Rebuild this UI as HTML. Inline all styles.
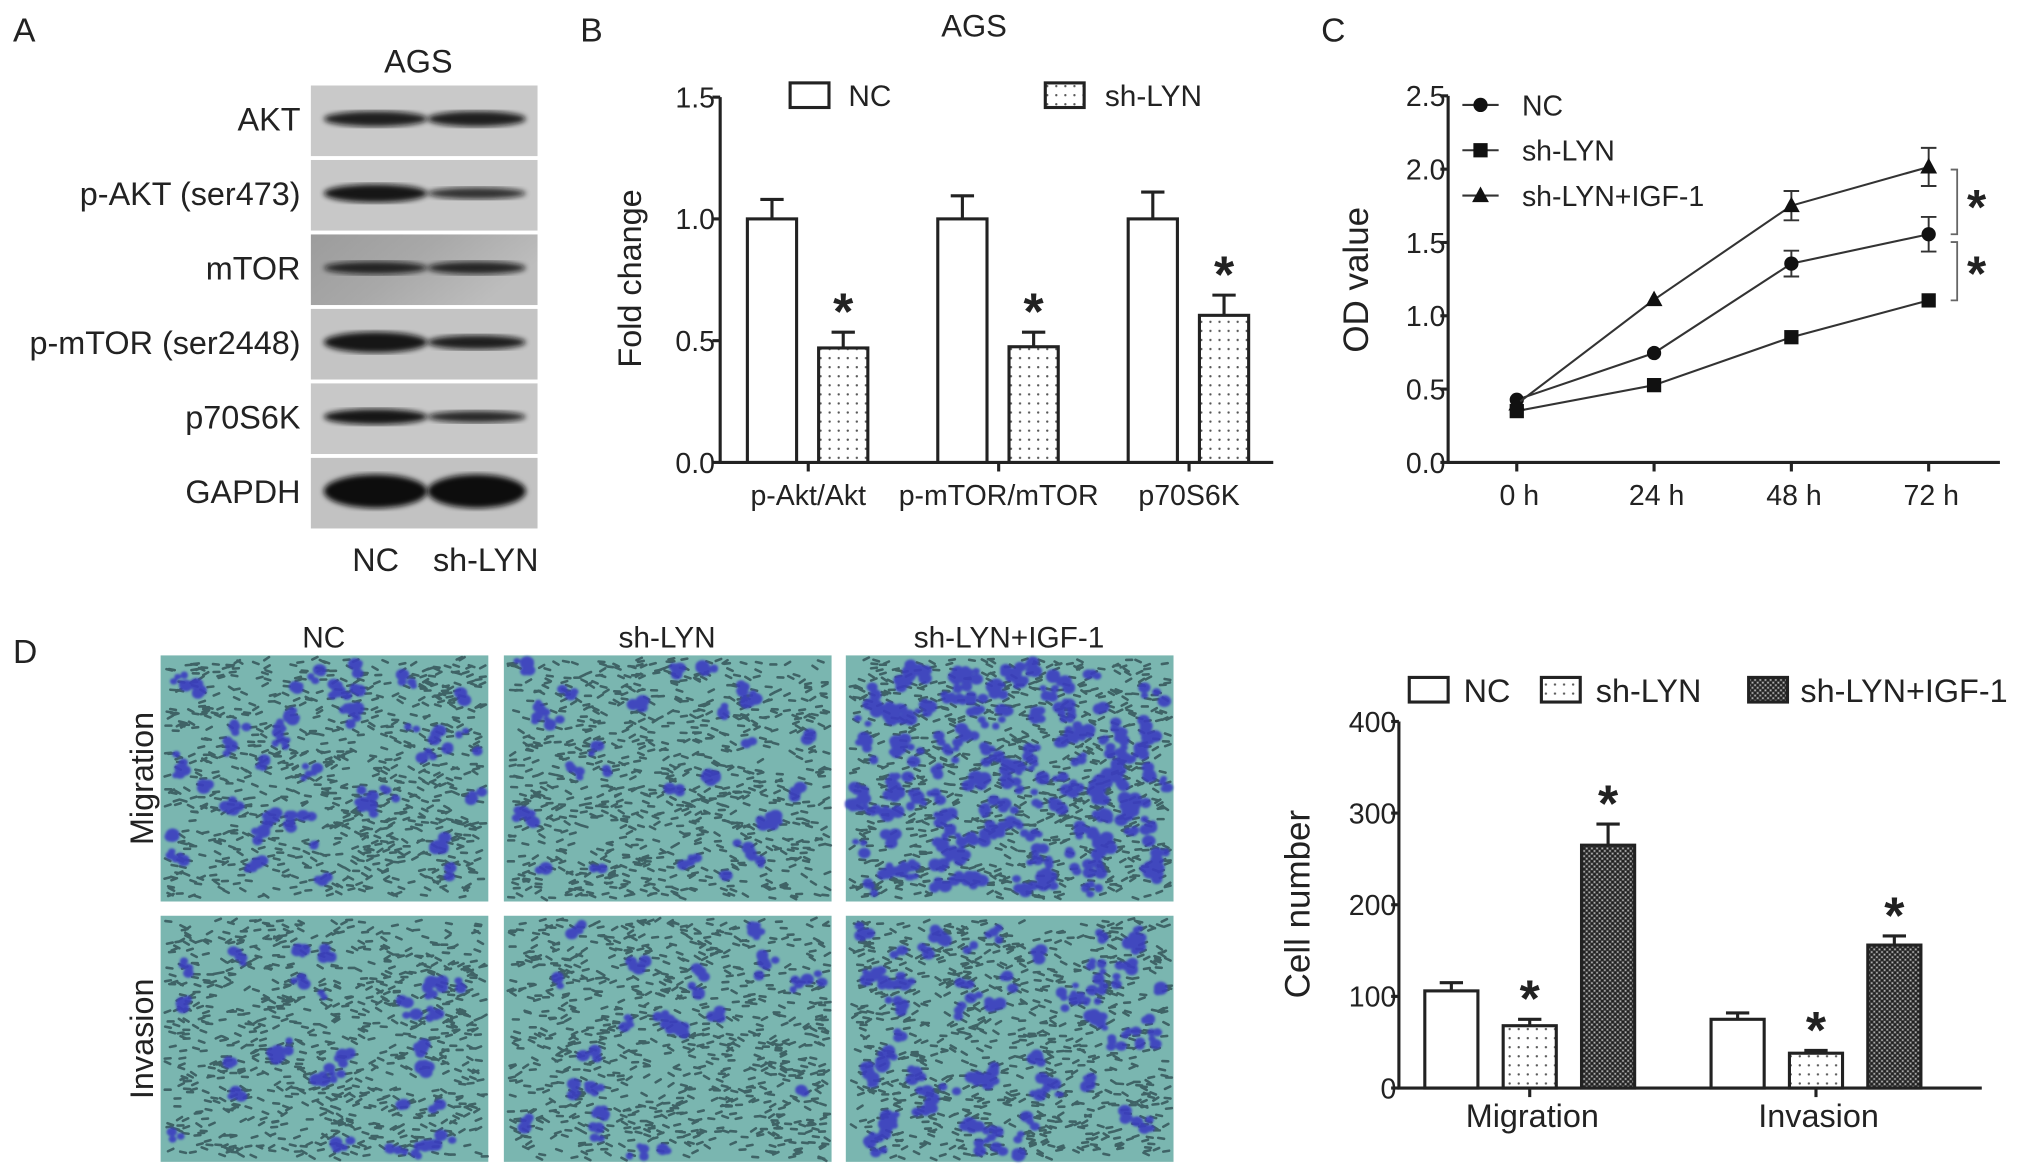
<!DOCTYPE html>
<html><head><meta charset="utf-8"><style>
html,body{margin:0;padding:0;background:#fff;}
svg{display:block;font-family:"Liberation Sans",Arial,sans-serif;}
</style></head><body>
<svg id="fig" width="2031" height="1173" viewBox="0 0 1568 905.6" preserveAspectRatio="none" xmlns="http://www.w3.org/2000/svg">
<defs>
<pattern id="dots" width="7" height="7" patternUnits="userSpaceOnUse"><rect width="7" height="7" fill="#fff"/><circle cx="3.5" cy="3.5" r="0.9" fill="#555"/></pattern>
<pattern id="check" width="4" height="4" patternUnits="userSpaceOnUse"><rect width="4" height="4" fill="#555"/><rect width="2" height="2" fill="#222"/><rect x="2" y="2" width="2" height="2" fill="#222"/><circle cx="1" cy="3" r="0.6" fill="#bbb"/><circle cx="3" cy="1" r="0.6" fill="#bbb"/></pattern>
<linearGradient id="mtorbg" x1="0" y1="0" x2="1" y2="0.4"><stop offset="0" stop-color="#9c9c9c"/><stop offset="0.5" stop-color="#a8a8a8"/><stop offset="1" stop-color="#bdbdbd"/></linearGradient>
<filter id="blur"><feGaussianBlur stdDeviation="2"/></filter>
<filter id="blur1"><feGaussianBlur stdDeviation="0.9"/></filter>
</defs>
<g id="panelA"></g>
<g id="panelB"></g>
<g id="panelC"></g>
<g id="panelD"></g>
<g id="panelE"></g>
</svg>
<script>
// ---- Panel B data ----
const bCategories = ["p-Akt/Akt", "p-mTOR/mTOR", "p70S6K"];
const bNC = [1.0, 1.0, 1.0];
const bNCErr = [0.08, 0.095, 0.11];
const bSh = [0.47, 0.475, 0.604];
const bShErr = [0.065, 0.06, 0.083];
const bTicks = ["0.0", "0.5", "1.0", "1.5"];
// ---- Panel C data ----
const cTimes = ["0 h", "24 h", "48 h", "72 h"];
const cNC = [0.427, 0.746, 1.356, 1.556];
const cNCErr = [0.02, 0.02, 0.088, 0.118];
const cSh = [0.35, 0.527, 0.854, 1.105];
const cShErr = [0.02, 0.02, 0.02, 0.03];
const cIGF = [0.398, 1.11, 1.751, 2.015];
const cIGFErr = [0.02, 0.02, 0.1, 0.13];
const cTicks = ["0.0", "0.5", "1.0", "1.5", "2.0", "2.5"];
// ---- Panel D chart data ----
const eCategories = ["Migration", "Invasion"];
const eNC = [106, 75];
const eNCErr = [9, 7];
const eSh = [68, 38];
const eShErr = [7, 3];
const eIGF = [265, 156];
const eIGFErr = [23, 10];
const eTicks = ["0", "100", "200", "300", "400"];

const NS = "http://www.w3.org/2000/svg";
function mk(parent, tag, attrs, text) {
  const e = document.createElementNS(NS, tag);
  for (const k in attrs) e.setAttribute(k, attrs[k]);
  if (text !== undefined) e.textContent = text;
  parent.appendChild(e);
  return e;
}
function txt(parent, x, y, s, size, anchor, name, extra) {
  const t = mk(parent, "text", Object.assign({x: x, y: y, "font-size": size, "text-anchor": anchor || "start", fill: "#222"}, extra || {}), s);
  
  
  return t;
}
const L = {stroke: "#222", "stroke-width": 2.4, fill: "none"};

// ================= Panel A =================
(function () {
  const g = document.getElementById("panelA");
  txt(g, 10, 32, "A", 26, "start", "panel-a-label");
  txt(g, 323, 56, "AGS", 25, "middle", "blot-cell-line-title");
  const rows = ["AKT", "p-AKT (ser473)", "mTOR", "p-mTOR (ser2448)", "p70S6K", "GAPDH"];
  const bg = ["#c9c9c9", "#c8c8c8", "url(#mtorbg)", "#c4c4c4", "#c8c8c8", "#c2c2c2"];
  const bandNC = [[6, 0.9], [7, 0.95], [5, 0.85], [8, 0.95], [6, 0.95], [13, 1]];
  const bandSh = [[6, 0.9], [4.5, 0.8], [5, 0.85], [5.5, 0.9], [4.5, 0.85], [13, 1]];
  const top = 65, h = 57.5;
  rows.forEach((r, i) => {
    const y = top + i * h;
    const strip = mk(g, "g", {});
    
    
    mk(strip, "rect", {x: 240, y: y + 1, width: 175, height: h - 3, fill: bg[i]});
    const cy = y + h / 2 - 2;
    mk(strip, "ellipse", {cx: 290, cy: cy, rx: 40, ry: bandNC[i][0], fill: "#111", opacity: bandNC[i][1], filter: "url(#blur)"});
    mk(strip, "ellipse", {cx: 368, cy: cy, rx: 38, ry: bandSh[i][0], fill: "#111", opacity: bandSh[i][1], filter: "url(#blur)"});
    txt(g, 232, cy + 9, r, 25, "end", "blot-label-" + r.toLowerCase().replace(/[^a-z0-9]+/g, '-'));
  });
  txt(g, 290, 441, "NC", 25, "middle", "blot-lane-nc");
  txt(g, 375, 441, "sh-LYN", 25, "middle", "blot-lane-sh-lyn");
})();

// ================= Panel B =================
(function () {
  const g = document.getElementById("panelB");
  txt(g, 448, 32, "B", 26, "start", "panel-b-label");
  txt(g, 752, 28, "AGS", 24, "middle", "chart-title-ags");
  const x0 = 556, x1 = 983, y0 = 357, yTop = 75, vmax = 1.5;
  const Y = v => y0 - (v / vmax) * (y0 - yTop);
  const groupX = i => 577 + i * 147;
  const bw = 38, off = 55;
  const ax = mk(g, "path", Object.assign({d: `M${x0},${yTop} L${x0},${y0} L${x1},${y0}`}, L));
  
  
  bTicks.forEach((t, i) => {
    const v = parseFloat(t);
    mk(g, "line", Object.assign({x1: x0 - 6, x2: x0, y1: Y(v), y2: Y(v)}, L));
    txt(g, x0 - 4, Y(v) + 8, t, 22, "end", "y-tick-label");
  });
  txt(g, 0, 0, "Fold change", 25, "middle", "y-axis-title", {transform: "translate(495,215) rotate(-90)"});
  bCategories.forEach((c, i) => {
    const gx = groupX(i);
    mk(g, "line", Object.assign({x1: gx + 47, x2: gx + 47, y1: y0, y2: y0 + 7}, L));
    txt(g, gx + 47, 390, c, 22, "middle", "x-tick-label");
    const b1 = mk(g, "rect", {x: gx, y: Y(bNC[i]), width: bw, height: y0 - Y(bNC[i]), fill: "#fff", stroke: "#222", "stroke-width": 2.4});
    
    
    mk(g, "path", Object.assign({d: `M${gx + bw / 2},${Y(bNC[i])} V${Y(bNC[i] + bNCErr[i])} M${gx + bw / 2 - 9},${Y(bNC[i] + bNCErr[i])} H${gx + bw / 2 + 9}`}, L));
    const sx = gx + off;
    const b2 = mk(g, "rect", {x: sx, y: Y(bSh[i]), width: bw, height: y0 - Y(bSh[i]), fill: "url(#dots)", stroke: "#222", "stroke-width": 2.4});
    
    
    mk(g, "path", Object.assign({d: `M${sx + bw / 2},${Y(bSh[i])} V${Y(bSh[i] + bShErr[i])} M${sx + bw / 2 - 9},${Y(bSh[i] + bShErr[i])} H${sx + bw / 2 + 9}`}, L));
    txt(g, sx + bw / 2, Y(bSh[i] + bShErr[i]) - 2, "*", 40, "middle", "significance-star", {"font-weight": "bold"});
  });
  const lg1 = mk(g, "rect", {x: 610, y: 64, width: 30, height: 19, fill: "#fff", stroke: "#222", "stroke-width": 2.4});
  
  
  txt(g, 655, 82, "NC", 23, "start", "legend-label-nc");
  const lg2 = mk(g, "rect", {x: 807, y: 64, width: 30, height: 19, fill: "url(#dots)", stroke: "#222", "stroke-width": 2.4});
  
  
  txt(g, 853, 82, "sh-LYN", 23, "start", "legend-label-sh-lyn");
})();

// ================= Panel C =================
(function () {
  const g = document.getElementById("panelC");
  txt(g, 1020, 32, "C", 26, "start", "panel-c-label");
  const x0 = 1118, x1 = 1544, y0 = 357, yTop = 74, vmax = 2.5;
  const Y = v => y0 - (v / vmax) * (y0 - yTop);
  const X = i => 1171 + i * 106;
  const ax = mk(g, "path", Object.assign({d: `M${x0},${yTop} L${x0},${y0} L${x1},${y0}`}, L));
  
  
  cTicks.forEach(t => {
    const v = parseFloat(t);
    mk(g, "line", Object.assign({x1: x0 - 6, x2: x0, y1: Y(v), y2: Y(v)}, L));
    txt(g, x0 - 2, Y(v) + 8, t, 22, "end", "y-tick-label");
  });
  cTimes.forEach((t, i) => {
    mk(g, "line", Object.assign({x1: X(i), x2: X(i), y1: y0, y2: y0 + 7}, L));
    txt(g, X(i) + 2, 390, t, 22, "middle", "x-tick-label");
  });
  txt(g, 0, 0, "OD value", 27, "middle", "y-axis-title", {transform: "translate(1056,216) rotate(-90)"});
  function marker(shape, x, y, name) {
    let m;
    if (shape === "circle") m = mk(g, "circle", {cx: x, cy: y, r: 5.5, fill: "#111"});
    else if (shape === "square") m = mk(g, "rect", {x: x - 5.5, y: y - 5.5, width: 11, height: 11, fill: "#111"});
    else m = mk(g, "path", {d: `M${x},${y - 7} L${x + 6.5},${y + 5} L${x - 6.5},${y + 5} Z`, fill: "#111"});
    
    
  }
  const series = [
    {name: "nc", vals: cNC, err: cNCErr, shape: "circle"},
    {name: "sh-lyn", vals: cSh, err: cShErr, shape: "square"},
    {name: "sh-lyn-igf-1", vals: cIGF, err: cIGFErr, shape: "triangle"}
  ];
  series.forEach(s => {
    const d = s.vals.map((v, i) => (i ? "L" : "M") + X(i) + "," + Y(v)).join(" ");
    const p = mk(g, "path", {d: d, stroke: "#333", "stroke-width": 1.6, fill: "none"});
    
    
    s.vals.forEach((v, i) => {
      if (s.err[i] > 0.04) {
        const a = Y(v + s.err[i]), b = Y(v - s.err[i]);
        mk(g, "path", {d: `M${X(i)},${a} V${b} M${X(i) - 6},${a} H${X(i) + 6} M${X(i) - 6},${b} H${X(i) + 6}`, stroke: "#333", "stroke-width": 1.5, fill: "none"});
      }
      marker(s.shape, X(i), Y(v), 'point-' + s.name + '-' + i);
    });
  });
  const legend = [["NC", "circle", 81], ["sh-LYN", "square", 116], ["sh-LYN+IGF-1", "triangle", 151]];
  legend.forEach(l => {
    mk(g, "line", {x1: 1129, x2: 1157, y1: l[2], y2: l[2], stroke: "#333", "stroke-width": 1.6});
    marker(l[1], 1143, l[2], 'legend-marker-' + l[0].toLowerCase().replace(/[^a-z0-9]+/g, '-'));
    txt(g, 1175, l[2] + 8, l[0], 22, "start", 'legend-label-' + l[0].toLowerCase().replace(/[^a-z0-9]+/g, '-'));
  });
  const i3 = 3;
  const bx = 1506;
  mk(g, "path", {d: `M${bx},${Y(cIGF[i3]) + 2} H${bx + 5} V${Y(cNC[i3])} H${bx}`, stroke: "#666", "stroke-width": 1.4, fill: "none"});
  mk(g, "path", {d: `M${bx},${Y(cNC[i3]) + 6} H${bx + 5} V${Y(cSh[i3])} H${bx}`, stroke: "#666", "stroke-width": 1.4, fill: "none"});
  txt(g, 1526, (Y(cIGF[i3]) + Y(cNC[i3])) / 2 + 18, "*", 38, "middle", "significance-star-igf-vs-nc", {"font-weight": "bold"});
  txt(g, 1526, (Y(cNC[i3]) + Y(cSh[i3])) / 2 + 18, "*", 38, "middle", "significance-star-nc-vs-sh", {"font-weight": "bold"});
})();

// ================= Panel D images =================
(function () {
  const g = document.getElementById("panelD");
  txt(g, 10, 512, "D", 26, "start", "panel-d-label");
  const cols = [["NC", 124], ["sh-LYN", 389], ["sh-LYN+IGF-1", 653]];
  const rowsY = [["Migration", 506], ["Invasion", 707]];
  cols.forEach(c => txt(g, c[1] + 126, 500, c[0], 23, "middle", 'column-title-' + c[0].toLowerCase().replace(/[^a-z0-9]+/g, '-')));
  rowsY.forEach(r => txt(g, 0, 0, r[0], 25, "middle", 'row-title-' + r[0].toLowerCase(), {transform: `translate(118,${r[1] + 95}) rotate(-90)`}));
  let seed = 7;
  const rnd = () => { seed = (seed * 16807) % 2147483647; return seed / 2147483647; };
  const density = [[45, 30, 170], [30, 25, 70]];
  rowsY.forEach((r, ri) => {
    cols.forEach((c, ci) => {
      const w = 253, h = 190, x = c[1], y = r[1];
      const im = mk(g, "g", {});
      
      
      mk(im, "rect", {x: x, y: y, width: w, height: h, fill: "#7ab6b0"});
      let d = "";
      for (let k = 0; k < 900; k++) {
        const px = x + 3 + rnd() * (w - 8), py = y + 3 + rnd() * (h - 6);
        const a = (rnd() - 0.5) * 1.2;
        d += `M${px.toFixed(1)},${py.toFixed(1)} l${(4.5 * Math.cos(a)).toFixed(1)},${(4.5 * Math.sin(a)).toFixed(1)} `;
      }
      mk(im, "path", {d: d, stroke: "#2c484e", "stroke-width": 2, "stroke-linecap": "round", opacity: 0.75});
      const n = density[ri][ci];
      let bd = "";
      for (let k = 0; k < n; k++) {
        const cxp = x + 8 + rnd() * (w - 16), cyp = y + 8 + rnd() * (h - 16);
        const parts = 2 + Math.floor(rnd() * 4);
        for (let q = 0; q < parts; q++) {
          const px = cxp + (rnd() - 0.5) * 12, py = cyp + (rnd() - 0.5) * 10;
          const rr = 2.5 + rnd() * 3;
          bd += `M${(px - rr).toFixed(1)},${py.toFixed(1)} a${rr.toFixed(1)},${(rr * 0.85).toFixed(1)} 0 1,0 ${(2 * rr).toFixed(1)},0 a${rr.toFixed(1)},${(rr * 0.85).toFixed(1)} 0 1,0 ${(-2 * rr).toFixed(1)},0 `;
        }
      }
      mk(im, "path", {d: bd, fill: "#3a3dc0", opacity: 0.9, filter: "url(#blur1)"});
    });
  });
})();

// ================= Panel D bar chart =================
(function () {
  const g = document.getElementById("panelE");
  const x0 = 1080, x1 = 1530, y0 = 840, yTop = 557, vmax = 400;
  const Y = v => y0 - (v / vmax) * (y0 - yTop);
  const gX = i => 1100 + i * 221;
  const bw = 41, step = 60.5;
  const ax = mk(g, "path", Object.assign({d: `M${x0},${yTop} L${x0},${y0} L${x1},${y0}`}, L));
  
  
  eTicks.forEach(t => {
    const v = parseFloat(t);
    mk(g, "line", Object.assign({x1: x0 - 6, x2: x0, y1: Y(v), y2: Y(v)}, L));
    txt(g, x0 - 2, Y(v) + 8, t, 22, "end", "y-tick-label");
  });
  txt(g, 0, 0, "Cell number", 27, "middle", "y-axis-title", {transform: "translate(1011,698) rotate(-90)"});
  const fills = ["#fff", "url(#dots)", "url(#check)"];
  const names = ["nc", "sh-lyn", "sh-lyn-igf-1"];
  eCategories.forEach((c, i) => {
    const vals = [eNC[i], eSh[i], eIGF[i]], errs = [eNCErr[i], eShErr[i], eIGFErr[i]];
    mk(g, "line", Object.assign({x1: gX(i) + step + bw / 2, x2: gX(i) + step + bw / 2, y1: y0, y2: y0 + 7}, L));
    txt(g, gX(i) + step + bw / 2 + 2, 870, c, 25, "middle", 'x-tick-label-' + c.toLowerCase());
    vals.forEach((v, k) => {
      const bx = gX(i) + k * step;
      const r = mk(g, "rect", {x: bx, y: Y(v), width: bw, height: y0 - Y(v), fill: fills[k], stroke: "#222", "stroke-width": 2.4});
      
      
      const cx = bx + bw / 2, et = Y(v + errs[k]);
      mk(g, "path", Object.assign({d: `M${cx},${Y(v)} V${et} M${cx - 9},${et} H${cx + 9}`}, L));
      if (k > 0) txt(g, cx, et - 2, "*", 40, "middle", "significance-star", {"font-weight": "bold"});
    });
  });
  const lg = [["NC", 1088, 1130], ["sh-LYN", 1190, 1232], ["sh-LYN+IGF-1", 1350, 1390]];
  lg.forEach((l, k) => {
    const s = mk(g, "rect", {x: l[1], y: 523, width: 30, height: 19, fill: fills[k], stroke: "#222", "stroke-width": 2.4});
    
    
    txt(g, l[2], 542, l[0], 25, "start", 'legend-label-' + names[k]);
  });
})();
</script>
</body></html>
